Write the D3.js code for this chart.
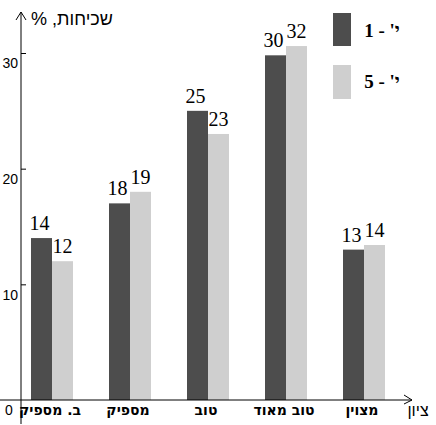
<!DOCTYPE html>
<html>
<head>
<meta charset="utf-8">
<script src="https://cdn.jsdelivr.net/npm/d3@7"></script>
<style>
  body { margin: 0; background: #fff; }
  svg { display: block; }
  .rtl { direction: rtl; }
</style>
</head>
<body>
<svg id="chart"></svg>
<script>
const width = 436;
const height = 425;

// grades
const categories = ["ב. מספיק", "מספיק", "טוב", "טוב מאוד", "מצוין"];
const seriesNames = ["י' - 1", "י' - 5"];
// bar heights as drawn
const grade1 = [14, 17, 25, 29.8, 13];
const grade5 = [12, 18, 23, 30.6, 13.4];
// numbers printed above bars
const labels1 = ["14", "18", "25", "30", "13"];
const labels5 = ["12", "19", "23", "32", "14"];
const yTicks = [10, 20, 30];
const colors = ["#4d4d4d", "#cfcfcf"];

var svg = d3.select("#chart").attr("width", width).attr("height", height);

var x = d3.scaleBand().domain(categories).range([31, 385]).paddingInner(36 / 78).paddingOuter(0);
var xs = d3.scaleBand().domain([0, 1]).range([0, x.bandwidth()]);
var y = d3.scaleLinear().domain([0, 30]).range([400, 53]);

var rows = categories.map((c, i) => ({
  cat: c,
  vals: [
    { s: 0, v: grade1[i], t: labels1[i] },
    { s: 1, v: grade5[i], t: labels5[i] }
  ]
}));

var groups = svg.selectAll("g.grp")
  .data(rows)
  .enter()
  .append("g")
  .attr("class", "grp")
  .attr("transform", d => `translate(${x(d.cat)},0)`);

groups.selectAll("rect")
  .data(d => d.vals)
  .enter()
  .append("rect")
  .attr("x", d => xs(d.s))
  .attr("y", d => y(d.v))
  .attr("width", xs.bandwidth())
  .attr("height", d => y(0) - y(d.v))
  .attr("fill", d => colors[d.s]);

groups.selectAll("text.val")
  .data(d => d.vals)
  .enter()
  .append("text")
  .attr("class", "val")
  .attr("x", d => xs(d.s) + xs.bandwidth() / 2 - (d.s === 0 ? 2 : 0))
  .attr("y", d => y(d.v) - 8)
  .attr("text-anchor", "middle")
  .attr("font-family", "'Liberation Serif', 'Times New Roman', serif")
  .attr("font-size", 20)
  .attr("fill", "#000")
  .text(d => d.t);

// y axis ticks (pointing right, labels below-left)
var yAxis = d3.axisLeft(y).tickValues(yTicks).tickSizeInner(-5).tickSizeOuter(0).tickPadding(3);
var gy = svg.append("g").attr("transform", "translate(21,0)").call(yAxis);
gy.select(".domain").remove();
gy.selectAll(".tick line").attr("stroke", "#000");
gy.selectAll(".tick text")
  .attr("dy", "1.05em")
  .attr("font-family", "'Liberation Sans', Arial, sans-serif")
  .attr("font-size", 14)
  .attr("fill", "#000");

svg.append("text")
  .attr("x", 9)
  .attr("y", y(0) + 15)
  .attr("text-anchor", "middle")
  .attr("font-family", "'Liberation Sans', Arial, sans-serif")
  .attr("font-size", 14)
  .text("0");

// axis lines with open arrows
svg.append("line").attr("x1", 21).attr("x2", 21).attr("y1", 12).attr("y2", 424).attr("stroke", "#000");
svg.append("path").attr("d", "M16,20L21,12L26,20").attr("fill", "none").attr("stroke", "#000");
svg.append("line").attr("x1", 0).attr("x2", 412).attr("y1", y(0)).attr("y2", y(0)).attr("stroke", "#000");
svg.append("path").attr("d", "M404,395L412,400L404,404").attr("fill", "none").attr("stroke", "#000");

// axis titles
svg.append("text")
  .attr("class", "rtl")
  .attr("x", 72)
  .attr("y", 25)
  .attr("text-anchor", "middle")
  .attr("font-family", "'Liberation Sans', Arial, sans-serif")
  .attr("font-size", 18)
  .text("שכיחות, %");

svg.append("text")
  .attr("class", "rtl")
  .attr("x", 418)
  .attr("y", 416)
  .attr("text-anchor", "middle")
  .attr("font-family", "'Liberation Sans', Arial, sans-serif")
  .attr("font-size", 16)
  .text("ציון");

// category labels
svg.selectAll("text.cat")
  .data(categories)
  .enter()
  .append("text")
  .attr("class", "cat rtl")
  .attr("x", d => x(d) + x.bandwidth() / 2 - 2)
  .attr("y", 415)
  .attr("text-anchor", "middle")
  .attr("font-family", "'DejaVu Sans', sans-serif")
  .attr("font-weight", "bold")
  .attr("font-size", 14)
  .text(d => d);

// legend
var legend = svg.selectAll("g.leg")
  .data(seriesNames)
  .enter()
  .append("g")
  .attr("class", "leg")
  .attr("transform", (d, i) => `translate(333,${i === 0 ? 13 : 65})`);

legend.append("rect")
  .attr("width", 18)
  .attr("height", (d, i) => i === 0 ? 33 : 34)
  .attr("fill", (d, i) => colors[i]);

legend.append("text")
  .attr("class", "rtl")
  .attr("x", 49)
  .attr("y", (d, i) => i === 0 ? 24 : 23)
  .attr("text-anchor", "middle")
  .attr("font-family", "'Liberation Serif', 'Times New Roman', serif")
  .attr("font-weight", "bold")
  .attr("font-size", 19)
  .text(d => d);
</script>
</body>
</html>
